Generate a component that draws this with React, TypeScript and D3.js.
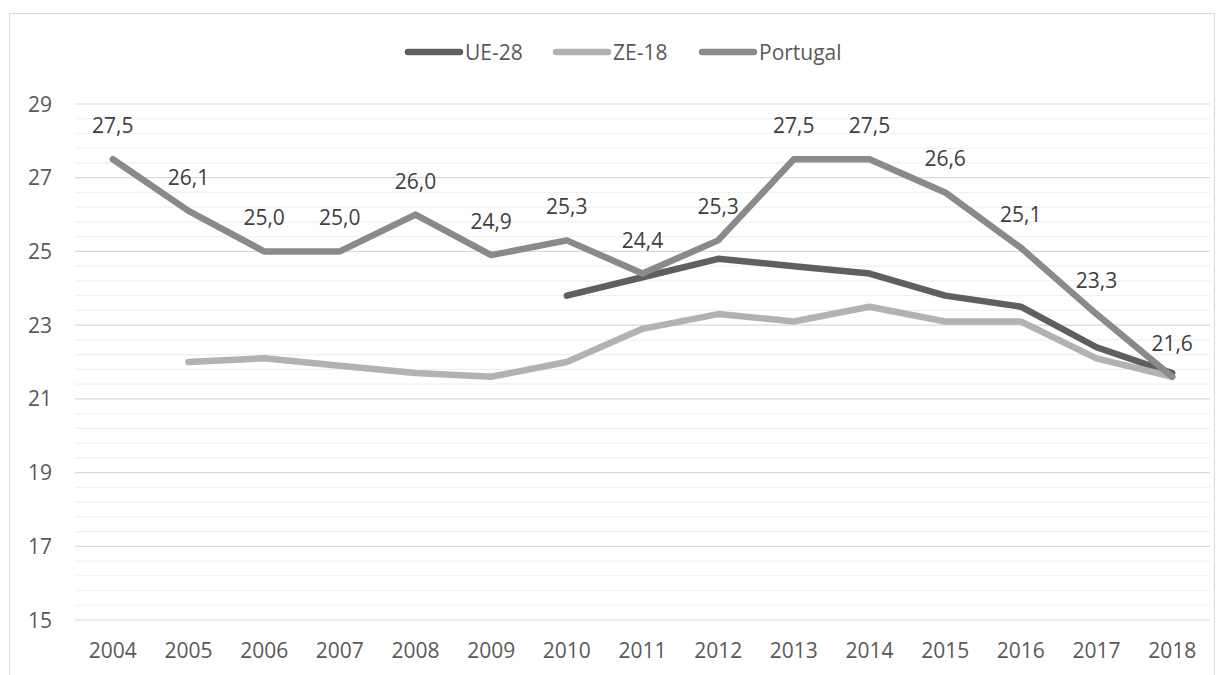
import React from "react";
import * as d3 from "d3";

const years = ["2004","2005","2006","2007","2008","2009","2010","2011","2012","2013","2014","2015","2016","2017","2018"];
const ue28: (number | null)[] = [null,null,null,null,null,null,23.8,24.3,24.8,24.6,24.4,23.8,23.5,22.4,21.7];
const ze18: (number | null)[] = [null,22.0,22.1,21.9,21.7,21.6,22.0,22.9,23.3,23.1,23.5,23.1,23.1,22.1,21.6];
const portugal: (number | null)[] = [27.5,26.1,25.0,25.0,26.0,24.9,25.3,24.4,25.3,27.5,27.5,26.6,25.1,23.3,21.6];
const yTicks = [15,17,19,21,23,25,27,29];

const series = [
  { name: "UE-28", values: ue28, color: "#5f5f5f", labels: false },
  { name: "ZE-18", values: ze18, color: "#b2b2b2", labels: false },
  { name: "Portugal", values: portugal, color: "#8a8a8a", labels: true },
];

export default function App() {
  const W = 1224, H = 675;
  const left = 75, right = 1210, top = 104, bottom = 620;
  const x = d3.scaleBand<string>().domain(years).range([left, right]);
  const cx = (yr: string) => (x(yr) as number) + x.bandwidth() / 2;
  const y = d3.scaleLinear().domain([15, 29]).range([bottom, top]);
  const minor = d3.range(15, 29.001, 0.4).filter(v => !yTicks.some(t => Math.abs(t - v) < 1e-6));
  const font = "'Open Sans', 'Noto Sans', sans-serif";
  const fs = 21;
  const legendItems = [
    { name: "UE-28", x0: 405, color: "#5f5f5f" },
    { name: "ZE-18", x0: 553, color: "#b2b2b2" },
    { name: "Portugal", x0: 699, color: "#8a8a8a" },
  ];
  return (
    <svg width={W} height={H} style={{ position: "absolute", left: 0, top: 0 }} fontFamily={font}>
      <rect x={0} y={0} width={W} height={H} fill="#fff" />
      <rect x={9.5} y={13.5} width={1205} height={700} fill="none" stroke="#d9d9d9" strokeWidth={1} />
      {minor.map((v, i) => (
        <line key={"m" + i} x1={left} x2={right} y1={y(v)} y2={y(v)} stroke="#f0f0f0" strokeWidth={1.2} />
      ))}
      {yTicks.map(t => (
        <g key={t}>
          <line x1={left} x2={right} y1={y(t)} y2={y(t)} stroke="#d9d9d9" strokeWidth={1.2} />
          <text x={52} y={y(t)} dy="0.36em" textAnchor="end" fontSize={fs} fill="#595959">{t}</text>
        </g>
      ))}
      {years.map(yr => (
        <text key={yr} x={cx(yr)} y={658} textAnchor="middle" fontSize={fs} fill="#595959">{yr}</text>
      ))}
      {series.map(s => {
        const line = d3.line<number | null>()
          .defined(v => v !== null)
          .x((_, i) => cx(years[i]))
          .y(v => y(v as number));
        return (
          <path key={s.name} d={line(s.values) || ""} fill="none" stroke={s.color} strokeWidth={6.5}
            strokeLinecap="round" strokeLinejoin="round" />
        );
      })}
      {series.filter(s => s.labels).map(s =>
        s.values.map((v, i) => v === null ? null : (
          <text key={s.name + i} x={cx(years[i])} y={y(v) - 26} textAnchor="middle" fontSize={fs} fill="#404040">
            {v.toFixed(1).replace(".", ",")}
          </text>
        ))
      )}
      {legendItems.map(l => (
        <g key={l.name}>
          <line x1={l.x0 + 3} x2={l.x0 + 55} y1={52} y2={52} stroke={l.color} strokeWidth={6.5} strokeLinecap="round" />
          <text x={l.x0 + 60} y={52} dy="0.36em" fontSize={fs} fill="#595959">{l.name}</text>
        </g>
      ))}
    </svg>
  );
}
